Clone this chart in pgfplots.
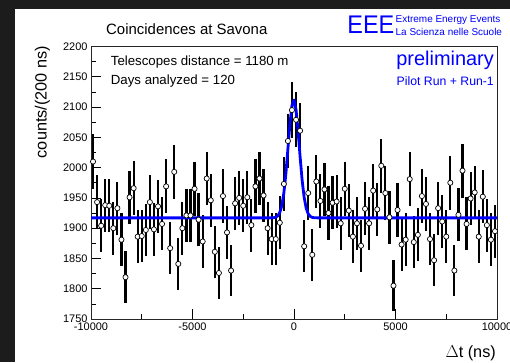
\documentclass[border=0pt]{standalone}
\usepackage{fontspec}
\setmainfont{Liberation Sans}
\usepackage{pgfplots}
\pgfplotsset{compat=1.18}
\usepackage{pgfplotstable}
\definecolor{darkbg}{RGB}{28,28,28}
\definecolor{rootblue}{RGB}{0,0,255}

\pgfplotstableread{
x y e
-9900 2010 44.8
-9700 1943 44.1
-9500 1904 43.6
-9300 1938 44.0
-9100 1937 44.0
-8900 1900 43.6
-8700 1933 44.0
-8500 1881 43.4
-8300 1819 42.6
-8100 1951 44.2
-7900 1966 44.3
-7700 1886 43.4
-7500 1887 43.4
-7300 1897 43.6
-7100 1943 44.1
-6900 1898 43.6
-6700 1936 44.0
-6500 1907 43.7
-6300 1969 44.4
-6100 1867 43.2
-5900 1993 44.6
-5700 1841 42.9
-5500 1900 43.6
-5300 1921 43.8
-5100 1921 43.8
-4900 1965 44.3
-4700 1914 43.7
-4500 1878 43.3
-4300 1982 44.5
-4100 1946 44.1
-3900 1861 43.1
-3700 1826 42.7
-3500 1953 44.2
-3300 1893 43.5
-3100 1830 42.8
-2900 1941 44.1
-2700 1950 44.2
-2500 1937 44.0
-2300 1951 44.2
-2100 1905 43.6
-1900 1969 44.4
-1700 1982 44.5
-1500 1954 44.2
-1300 1900 43.6
-1100 1882 43.4
-900 1882 43.4
-700 1909 43.7
-500 1973 44.4
-300 2044 45.2
-100 2095 45.8
100 2079 45.6
300 2061 45.4
500 1870 43.2
700 1958 44.2
900 1856 43.1
1100 1977 44.5
1300 1945 44.1
1500 1964 44.3
1700 1925 43.9
1900 1942 44.1
2100 1944 44.1
2300 1908 43.7
2500 1965 44.3
2700 1929 43.9
2900 1886 43.4
3100 1908 43.7
3300 1871 43.3
3500 1932 44.0
3700 1908 43.7
3900 1962 44.3
4100 1931 43.9
4300 2003 44.8
4500 1958 44.2
4700 1918 43.8
4900 1805 42.5
5100 1930 43.9
5300 1873 43.3
5500 1881 43.4
5700 1981 44.5
5900 1877 43.3
6100 1889 43.5
6300 1953 44.2
6500 1940 44.0
6700 1882 43.4
6900 1847 43.0
7100 1933 44.0
7300 1911 43.7
7500 1886 43.4
7700 1975 44.4
7900 1830 42.8
8100 1922 43.8
8300 1995 44.7
8500 1907 43.7
8700 1949 44.1
8900 1959 44.3
9100 1886 43.4
9300 1952 44.2
9500 1905 43.6
9700 1881 43.4
9900 1895 43.5
}\datatable

\pgfplotstableread{
x y
-10000 1917.0
-1500 1917.0
-1200 1917.0
-1100 1917.1
-1000 1917.3
-900 1918.1
-800 1920.3
-700 1925.8
-600 1937.3
-500 1958.2
-400 1990.2
-300 2031.0
-200 2072.5
-100 2102.9
0 2111.7
100 2095.7
200 2060.7
300 2018.2
400 1979.4
500 1950.8
600 1933.0
700 1923.6
800 1919.4
900 1917.8
1000 1917.2
1100 1917.1
1200 1917.0
1500 1917.0
10000 1917.0
}\fittable

\begin{document}
\begin{tikzpicture}[x=1bp,y=1bp]
\useasboundingbox (0,0) rectangle (510,362);
\fill[darkbg] (0,0) rectangle (510,362);
\fill[white] (15,0) rectangle (510,352.5);
\begin{axis}[
  at={(91bp,43bp)}, anchor=south west,
  scale only axis, width=406bp, height=272.5bp,
  xmin=-10000, xmax=10000, ymin=1750, ymax=2200,
  xtick={-10000,-5000,0,5000,10000},
  ytick={1750,1800,1850,1900,1950,2000,2050,2100,2150,2200},
  minor x tick num=1, minor y tick num=1,
  xtick pos=bottom, ytick pos=left,
  tick align=inside,
  major tick length=10bp, minor tick length=5bp,
  every tick/.style={black, line width=0.6bp},
  axis line style={black!85, line width=0.6bp},
  scaled ticks=false,
  /pgf/number format/assume math mode=true,
  /pgf/number format/1000 sep={},
  tick label style={font=\fontsize{11}{11}\selectfont},
]
\addplot[only marks, mark=*, mark size=2.6bp,
  mark options={fill=white, draw=black, line width=0.7bp},
  error bars/.cd, y dir=both, y explicit, error mark=none,
  error bar style={line width=2.2bp, black}]
  table[x=x, y=y, y error=e] {\datatable};
\addplot[rootblue, line width=2.8bp, line join=round, mark=none] table[x=x, y=y] {\fittable};
\end{axis}
% titles and annotations
\node[anchor=base west, inner sep=0pt, font=\fontsize{15}{15}\selectfont] at (106,328) {Coincidences at Savona};
\node[anchor=base west, inner sep=0pt, font=\fontsize{13.3}{13.3}\selectfont] at (110.7,296.3) {Telescopes distance = 1180 m};
\node[anchor=base west, inner sep=0pt, font=\fontsize{13.3}{13.3}\selectfont] at (110.7,277.3) {Days analyzed = 120};
\node[anchor=base east, inner sep=0pt, text=rootblue, font=\fontsize{20}{20}\selectfont] at (494,297) {preliminary};
\node[anchor=base east, inner sep=0pt, text=rootblue, font=\fontsize{12.3}{12.3}\selectfont] at (494,277) {Pilot Run + Run-1};
\node[anchor=base east, inner sep=0pt, text=rootblue, xscale=0.92, font=\fontsize{25.6}{25.6}\selectfont] at (394.5,329) {EEE};
\node[anchor=base west, inner sep=0pt, text=rootblue, font=\fontsize{10}{10}\selectfont] at (395.5,340) {Extreme Energy Events};
\node[anchor=base west, inner sep=0pt, text=rootblue, font=\fontsize{10}{10}\selectfont] at (395.5,326.7) {La Scienza nelle Scuole};
\node[anchor=base east, inner sep=0pt, rotate=90, font=\fontsize{16.3}{16.3}\selectfont] at (46.7,316) {counts/(200 ns)};
\node[anchor=base east, inner sep=0pt, font=\fontsize{16.3}{16.3}\selectfont] at (496,4.5) {$\Delta$t (ns)};
\end{tikzpicture}
\end{document}
